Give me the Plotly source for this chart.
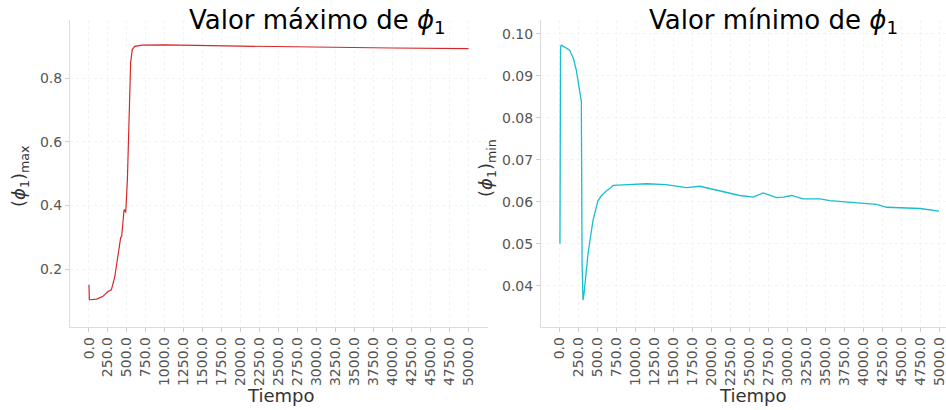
import plotly.graph_objects as go

# ---- data ----
t_max = [0, 5, 20, 100, 180, 230, 250, 295, 340, 380, 418, 430, 462, 475, 484,
         506, 527, 549, 570, 602, 700, 1000, 2000, 3000, 4000, 5000]
v_max = [0.151, 0.104, 0.104, 0.106, 0.114, 0.128, 0.130, 0.135, 0.177, 0.24,
         0.30, 0.302, 0.386, 0.385, 0.378, 0.48, 0.69, 0.85, 0.89, 0.90, 0.904,
         0.905, 0.901, 0.897, 0.895, 0.893]

t_min = [0, 8, 20, 60, 128, 180, 216, 250, 269, 282, 292, 304, 320, 370, 436,
         502, 550, 612, 660, 700, 900, 1140, 1400, 1669, 1845, 2100, 2373, 2549,
         2681, 2857, 2945, 3055, 3209, 3429, 3561, 3800, 4177, 4309, 4500, 4749, 5000]
v_min = [0.050, 0.0970, 0.0973, 0.0968, 0.0961, 0.0940, 0.0913, 0.0875, 0.0850,
         0.0840, 0.0450, 0.0366, 0.0385, 0.0476, 0.0556, 0.0603, 0.0615, 0.0626,
         0.0632, 0.0639, 0.0641, 0.0643, 0.0641, 0.0634, 0.0637, 0.0627, 0.0615,
         0.0611, 0.0621, 0.0610, 0.0611, 0.0615, 0.0607, 0.0607, 0.0603, 0.0599,
         0.0594, 0.0587, 0.0586, 0.0584, 0.0578]

x_ticks = [i * 250 for i in range(21)]
x_ticktext = [f"{v:.1f}" for v in x_ticks]
ymax_ticks = [0.2, 0.4, 0.6, 0.8]
ymax_ticktext = ["0.2", "0.4", "0.6", "0.8"]
ymin_ticks = [0.04, 0.05, 0.06, 0.07, 0.08, 0.09, 0.10]
ymin_ticktext = ["0.04", "0.05", "0.06", "0.07", "0.08", "0.09", "0.10"]

W, H = 946, 410
FONT = "DejaVu Sans"

def px(x):
    return x / W

def py(y):
    return 1 - y / H

fig = go.Figure()
fig.add_trace(go.Scatter(x=t_max, y=v_max, mode="lines",
                         line=dict(color="#d62728", width=1.2),
                         xaxis="x", yaxis="y", showlegend=False))
fig.add_trace(go.Scatter(x=t_min, y=v_min, mode="lines",
                         line=dict(color="#17becf", width=1.3),
                         xaxis="x2", yaxis="y2", showlegend=False))

axis_common = dict(
    showline=True, linecolor="#dcdcdc", linewidth=1,
    ticks="outside", ticklen=4, tickcolor="#cfcfcf", tickwidth=1,
    showgrid=True, gridcolor="#f3f3f3", griddash="dot", gridwidth=1,
    zeroline=False, mirror=False, ticklabeloverflow="allow",
    tickfont=dict(family=FONT, size=14, color="#555555"),
)

ydom = [py(326.5), py(20)]

fig.update_layout(
    width=W, height=H,
    margin=dict(l=0, r=0, t=0, b=0),
    paper_bgcolor="white", plot_bgcolor="white",
    font=dict(family=FONT),
    xaxis=dict(domain=[px(70), px(487.5)], range=[-250, 5250],
               tickvals=x_ticks, ticktext=x_ticktext, tickangle=-90,
               anchor="y", **axis_common),
    yaxis=dict(domain=ydom, range=[0.020, 0.983],
               tickvals=ymax_ticks, ticktext=ymax_ticktext,
               anchor="x", **axis_common),
    xaxis2=dict(domain=[px(541), 1.0], range=[-250, 5092],
                tickvals=x_ticks, ticktext=x_ticktext, tickangle=-90,
                anchor="y2", **axis_common),
    yaxis2=dict(domain=ydom, range=[0.0303, 0.1033],
                tickvals=ymin_ticks, ticktext=ymin_ticktext,
                anchor="x2", **axis_common),
)

ann = [
    dict(text="Valor máximo de <i>ϕ</i><sub>1</sub>", x=px(317), y=py(21),
         font=dict(size=26, color="black", family=FONT)),
    dict(text="Valor mínimo de <i>ϕ</i><sub>1</sub>", x=px(773), y=py(21),
         font=dict(size=26, color="black", family=FONT)),
    dict(text="Tiempo", x=px(281), y=py(395),
         font=dict(size=18, color="#333333", family=FONT)),
    dict(text="Tiempo", x=px(753), y=py(395),
         font=dict(size=18, color="#333333", family=FONT)),
    dict(text="(<i>ϕ</i><sub>1</sub>)<sub>max</sub>", x=px(20), y=py(176),
         textangle=-90, font=dict(size=18, color="#333333", family=FONT)),
    dict(text="(<i>ϕ</i><sub>1</sub>)<sub>min</sub>", x=px(487), y=py(168),
         textangle=-90, font=dict(size=18, color="#333333", family=FONT)),
]
for a in ann:
    fig.add_annotation(xref="paper", yref="paper", showarrow=False,
                       xanchor="center", yanchor="middle", **a)

fig.write_html("out.html")
